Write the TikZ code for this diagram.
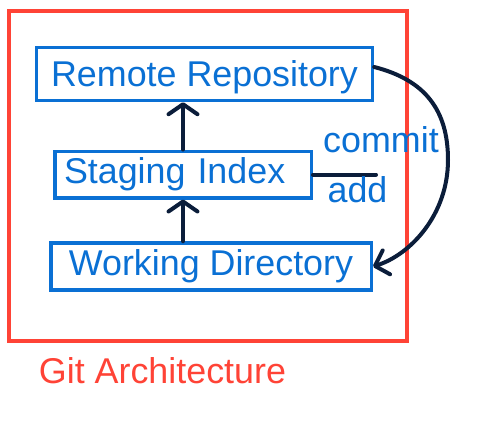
\documentclass[tikz,border=0pt]{standalone}
\usepackage{fontspec}
\setmainfont{Liberation Sans}
\usetikzlibrary{arrows.meta}
\usetikzlibrary{calc}

\definecolor{boxblue}{HTML}{0A70D4}
\definecolor{framered}{HTML}{FF4336}
\definecolor{inkblue}{HTML}{0B1D3A}

\tikzset{
  stage/.style = {draw = boxblue, line width = .07cm, text = boxblue,
    minimum height = .94cm, inner sep = 0},
  stroke/.style = {draw = inkblue, line width = .08cm, line cap = round}
}

\begin{document}
\begin{tikzpicture}[font = \fontsize{20.4}{24}\selectfont]
  \useasboundingbox (0, 0) rectangle (9.72, -8.48);
  \draw[framered, line width = .08cm] (.18, -.22) rectangle (8.14, -6.82);

  \node[stage, minimum width = 6.72cm, minimum height = 1.06cm, text depth =
  0pt] (remote) at (4.09, -1.48) {Remote Repository};
  \node[stage, minimum width = 5.13cm, minimum height = .93cm, text width =
  4.76cm, align = left, inner xsep = .18cm] (staging) at (3.66, -3.49)
  {Staging Index};
  \node[stage, minimum width = 6.41cm] (working) at (4.22, -5.33)
  {Working Directory};

  \draw[stroke, -{Straight Barb[length = .2cm, width = .58cm, round]}]
  (staging.north) -- (staging.north |- remote.south);
  \draw[stroke, -{Straight Barb[length = .2cm, width = .58cm, round]}]
  (working.north -| staging.north) -- (staging.south);

  \coordinate (addend) at (7.52, -3.44);
  \draw[stroke] (staging.east) -- (staging.east -| addend);

  \coordinate (bend) at (8.96, -3.2);
  \draw[stroke, -{Straight Barb[length = .24cm, width = .5cm, round]}]
  ($(remote.east) + (0, .14)$) .. controls (8.5, -1.6) and (8.96, -2.2) ..
  (bend) .. controls (8.96, -4.3) and (8.2, -5.1) .. (working.east);

  \node[text = boxblue] (commit) at (7.62, -2.79) {commit};
  \node[text = boxblue] (add) at (7.15, -3.8) {add};
  \node[text = framered] (title) at (3.25, -7.42) {Git Architecture};
\end{tikzpicture}
\end{document}
